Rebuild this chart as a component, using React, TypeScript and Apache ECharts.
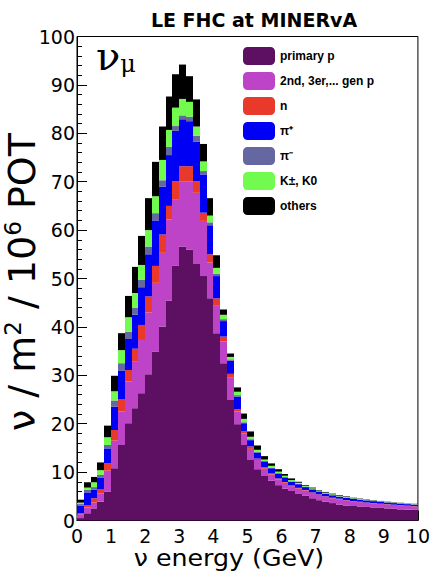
import React, { useEffect, useRef } from "react";
import * as echarts from "echarts";

// bin lower edges (GeV); every bin is 0.2 GeV wide
const binStarts = [
  0.0, 0.2, 0.4, 0.6, 0.8, 1.0, 1.2, 1.4, 1.6, 1.8,
  2.0, 2.2, 2.4, 2.6, 2.8, 3.0, 3.2, 3.4, 3.6, 3.8,
  4.0, 4.2, 4.4, 4.6, 4.8, 5.0, 5.2, 5.4, 5.6, 5.8,
  6.0, 6.2, 6.4, 6.6, 6.8, 7.0, 7.2, 7.4, 7.6, 7.8,
  8.0, 8.2, 8.4, 8.6, 8.8, 9.0, 9.2, 9.4, 9.6, 9.8,
];
const binWidth = 0.2;

// cumulative stack tops (nu / m^2 / 1e6 POT)
const topPrimaryP = [
  0.5, 1.5, 2.5, 3.9, 6.0, 10.8, 15.6, 20.1, 23.2, 26.3,
  30.2, 34.9, 40.1, 45.4, 52.6, 56.6, 56.0, 53.0, 50.5, 45.9,
  38.7, 32.5, 24.9, 19.9, 15.6, 12.5, 10.6, 9.2, 8.2, 7.3,
  6.6, 6.1, 5.6, 5.1, 4.6, 4.2, 3.9, 3.6, 3.3, 3.1,
  3.0, 2.9, 2.8, 2.7, 2.6, 2.5, 2.4, 2.3, 2.25, 2.2,
];
const topSecondaryP = [
  1.3, 2.7, 3.7, 5.6, 10.3, 16.5, 22.5, 28.7, 32.8, 37.3,
  43.0, 49.1, 55.3, 62.2, 66.4, 70.1, 70.1, 67.7, 61.9, 53.3,
  44.5, 37.0, 29.5, 22.5, 18.0, 14.8, 12.5, 10.7, 9.5, 8.5,
  7.8, 7.1, 6.6, 6.2, 5.7, 5.3, 4.9, 4.6, 4.4, 4.1,
  3.9, 3.8, 3.65, 3.55, 3.4, 3.3, 3.2, 3.1, 3.0, 2.9,
];
const topNeutron = [
  1.5, 3.2, 4.6, 6.4, 11.8, 18.7, 25.0, 31.1, 35.5, 40.4,
  46.3, 52.6, 59.1, 65.0, 70.1, 73.2, 73.2, 70.1, 63.6, 55.0,
  45.9, 38.0, 30.3, 23.0, 18.5, 15.3, 12.8, 11.0, 9.7, 8.7,
  7.95, 7.25, 6.75, 6.3, 5.8, 5.4, 5.0, 4.7, 4.5, 4.2,
  4.0, 3.88, 3.72, 3.62, 3.47, 3.37, 3.27, 3.17, 3.07, 2.97,
];
const topPiPlus = [
  3.1, 5.8, 6.4, 8.9, 14.9, 23.5, 31.0, 37.5, 42.5, 48.2,
  55.0, 62.0, 69.0, 75.5, 80.5, 82.9, 82.5, 78.3, 71.5, 61.0,
  50.5, 41.2, 33.0, 25.6, 20.1, 16.6, 14.0, 12.1, 10.8, 9.7,
  8.9, 8.0, 7.5, 6.9, 6.4, 6.0, 5.5, 5.2, 4.9, 4.7,
  4.45, 4.3, 4.15, 4.0, 3.85, 3.72, 3.6, 3.5, 3.38, 3.27,
];
const topPiMinus = [
  3.4, 6.3, 6.9, 9.4, 15.6, 24.8, 32.5, 39.0, 44.0, 49.7,
  56.6, 63.5, 70.3, 77.2, 81.5, 83.7, 83.4, 79.5, 72.2, 61.6,
  51.0, 41.6, 33.3, 25.9, 20.3, 16.8, 14.2, 12.3, 10.9, 9.8,
  9.0, 8.1, 7.6, 7.0, 6.5, 6.05, 5.6, 5.3, 5.0, 4.76,
  4.51, 4.36, 4.21, 4.07, 3.92, 3.79, 3.68, 3.58, 3.46, 3.36,
];
const topKaon = [
  3.7, 6.8, 7.9, 10.4, 17.2, 26.7, 35.2, 42.0, 47.0, 52.8,
  60.0, 67.0, 74.5, 80.7, 85.3, 87.1, 86.5, 81.4, 74.2, 63.0,
  52.2, 42.5, 33.8, 26.6, 21.0, 17.3, 14.6, 12.6, 11.3, 10.1,
  9.25, 8.35, 7.8, 7.15, 6.65, 6.2, 5.75, 5.42, 5.12, 4.87,
  4.6, 4.44, 4.28, 4.13, 3.98, 3.85, 3.73, 3.63, 3.51, 3.41,
];
const topOthers = [
  4.3, 7.9, 9.0, 12.0, 19.6, 29.9, 38.7, 46.4, 52.4, 58.8,
  66.6, 74.1, 81.4, 87.6, 92.2, 94.2, 91.8, 87.0, 77.8, 66.6,
  54.8, 43.6, 34.5, 27.5, 22.1, 18.4, 15.5, 13.3, 11.8, 10.6,
  9.6, 8.7, 8.0, 7.3, 6.8, 6.3, 5.9, 5.55, 5.25, 4.98,
  4.7, 4.52, 4.35, 4.19, 4.04, 3.9, 3.78, 3.67, 3.55, 3.45,
];

const layerNames = ["primary p", "2nd, 3er,... gen p", "n", "π⁺", "π⁻", "K±, K0", "others"];
const layerColors = ["#5d0f61", "#bd43c7", "#e8392b", "#0000f5", "#6567a0", "#72fb4f", "#000000"];
const layerTops = [topPrimaryP, topSecondaryP, topNeutron, topPiPlus, topPiMinus, topKaon, topOthers];

const FONT = "'Liberation Sans', Arial, Helvetica, sans-serif";
const WIDE = "'DejaVu Sans', 'Liberation Sans', sans-serif";

export default function App() {
  const ref = useRef<HTMLDivElement>(null);
  useEffect(() => {
    if (!ref.current) return;
    const chart = echarts.init(ref.current, undefined, { renderer: "svg" });

    const series = layerTops.map((tops, k) => {
      const color = layerColors[k];
      return {
        name: layerNames[k],
        type: "custom",
        itemStyle: { color },
        encode: { x: [0, 1], y: [2, 3] },
        data: tops.map((t, i) => [
          binStarts[i],
          binStarts[i] + binWidth,
          k > 0 ? layerTops[k - 1][i] : 0,
          t,
        ]),
        renderItem: (_params: any, api: any) => {
          const p0 = api.coord([api.value(0), api.value(2)]);
          const p1 = api.coord([api.value(1), api.value(3)]);
          const left = Math.round(p0[0]);
          const right = Math.round(p1[0]);
          return {
            type: "rect",
            shape: { x: left, y: p1[1], width: right - left, height: p0[1] - p1[1] },
            style: { fill: color },
          };
        },
      };
    });

    chart.setOption({
      animation: false,
      title: {
        text: "LE FHC at MINERvA",
        left: 249,
        top: 5,
        textAlign: "center",
        textStyle: { fontFamily: WIDE, fontWeight: "bold", fontSize: 19, color: "#000" },
      },
      legend: {
        orient: "vertical",
        left: 243,
        top: 47,
        padding: 0,
        itemWidth: 32,
        itemHeight: 18,
        itemGap: 7,
        icon: "roundRect",
        data: layerNames,
        textStyle: { fontFamily: FONT, fontWeight: "bold", fontSize: 12, color: "#000" },
        selectedMode: false,
      },
      grid: {
        left: 77,
        right: 12,
        top: 36.5,
        bottom: 53.5,
        show: true,
        borderColor: "#000",
        borderWidth: 1,
        backgroundColor: "transparent",
      },
      xAxis: {
        type: "value",
        min: 0,
        max: 10,
        interval: 1,
        axisLine: { show: true, lineStyle: { color: "#000" } },
        axisTick: { show: true, inside: true, length: 10, lineStyle: { color: "#000" } },
        minorTick: { show: true, splitNumber: 5, length: 5, lineStyle: { color: "#000" } },
        splitLine: { show: false },
        axisLabel: { fontFamily: WIDE, fontSize: 19, color: "#000", margin: 6, lineHeight: 19 },
      },
      yAxis: {
        type: "value",
        min: 0,
        max: 100,
        interval: 10,
        axisLine: { show: true, lineStyle: { color: "#000" } },
        axisTick: { show: true, inside: true, length: 10, lineStyle: { color: "#000" } },
        minorTick: { show: true, splitNumber: 5, length: 5, lineStyle: { color: "#000" } },
        splitLine: { show: false },
        axisLabel: { fontFamily: WIDE, fontSize: 19, color: "#000", margin: 2 },
      },
      graphic: [
        {
          type: "text",
          left: 96,
          top: 36,
          style: {
            text: "{a|ν}{b|μ}",
            rich: {
              a: { fontFamily: "'DejaVu Serif', serif", fontSize: 40, fill: "#000", verticalAlign: "bottom" },
              b: { fontFamily: "'DejaVu Serif', serif", fontSize: 24, fill: "#000", padding: [18, 0, 0, 0] },
            },
          },
        },
        {
          type: "text",
          x: 22,
          y: 282,
          rotation: Math.PI / 2,
          style: {
            text: "ν / m{s|2} / 10{s|6} POT",
            fontFamily: WIDE,
            fontSize: 38,
            fill: "#000",
            align: "center",
            verticalAlign: "middle",
            rich: {
              s: { fontFamily: WIDE, fontSize: 23, fill: "#000", padding: [0, 0, 18, 0] },
            },
          },
        },
        {
          type: "text",
          x: 229,
          y: 558,
          scaleX: 1.1,
          style: {
            text: "ν energy (GeV)",
            fontFamily: WIDE,
            fontSize: 23,
            lineHeight: 23,
            fill: "#000",
            align: "center",
            verticalAlign: "middle",
          },
        },
      ],
      series,
    });
    return () => chart.dispose();
  }, []);
  return (
    <div
      ref={ref}
      style={{ position: "fixed", left: 0, top: 0, width: 433, height: 574, background: "#fff" }}
    />
  );
}
